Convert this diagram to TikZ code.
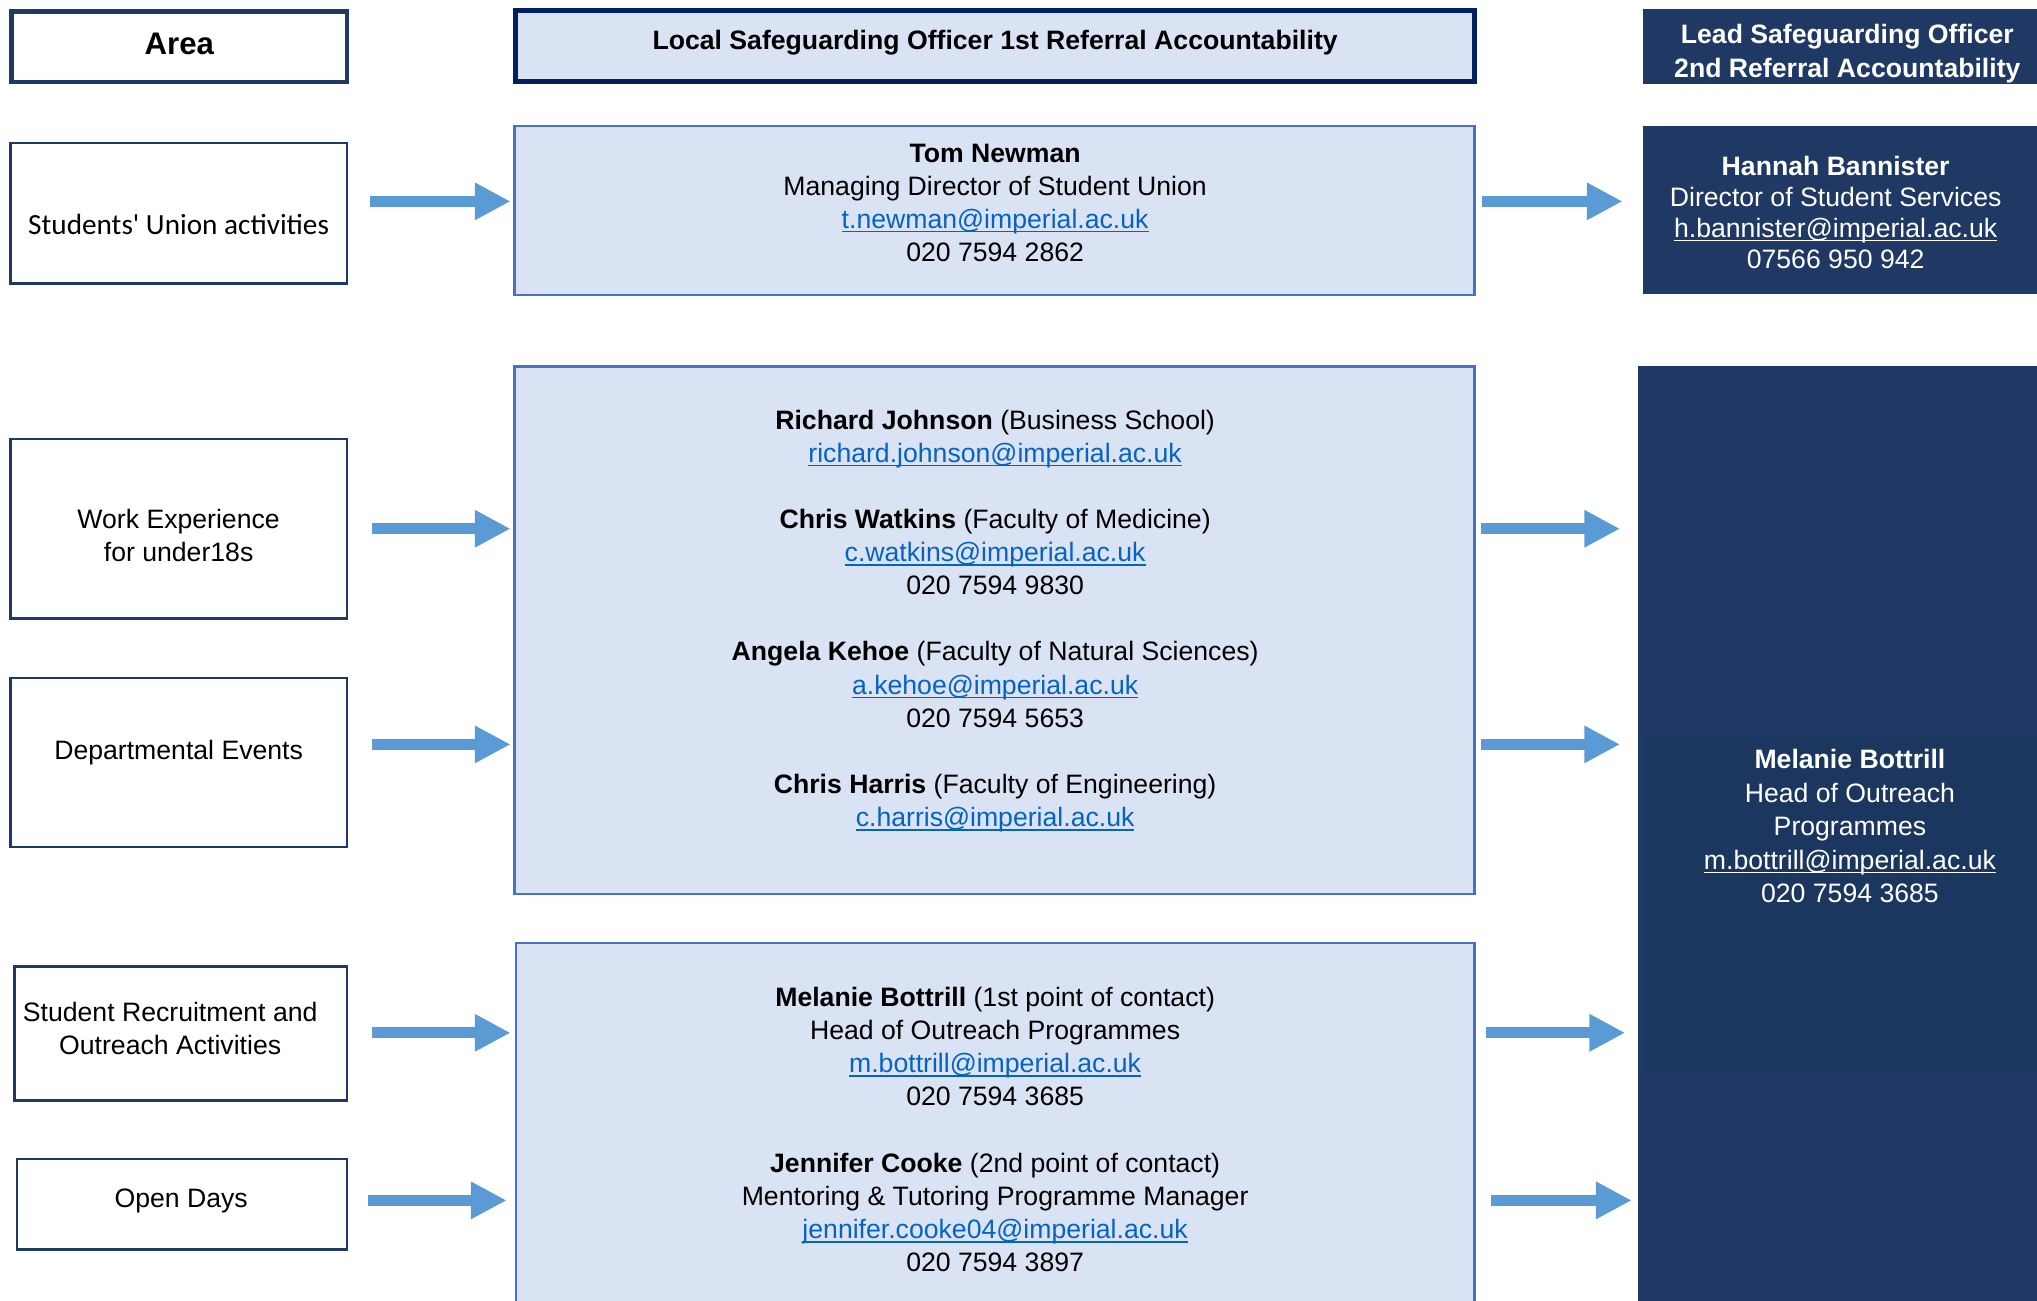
\documentclass[tikz,border=0pt]{standalone}
\usepackage{fontspec}
\setmainfont{Liberation Sans}
\newfontfamily\calfont[Ligatures=TeXOff]{Carlito}
\usetikzlibrary{arrows.meta}
\definecolor{navy}{HTML}{203864}
\definecolor{hdrnavy}{HTML}{002060}
\definecolor{lightfill}{HTML}{DAE3F3}
\definecolor{midborder}{HTML}{4472C4}
\definecolor{arrowblue}{HTML}{5B9BD5}
\definecolor{darkfill}{HTML}{1F3864}
\definecolor{innerfill}{HTML}{1B3760}
\definecolor{linkblue}{HTML}{0563C1}
\newcommand\ulink[1]{\setbox0=\hbox{#1}\rlap{\rule[-3.2pt]{\wd0}{1.2pt}}\box0}
\newcommand\blink[1]{{\color{linkblue}\ulink{#1}}}
\tikzset{
  base/.style={inner sep=0pt, outer sep=0pt},
  leftbox/.style={base, draw=navy, line width=2pt, fill=white},
  midbox/.style={base, draw=midborder, line width=1.8pt, fill=lightfill},
  darkbox/.style={base, fill=darkfill},
  txt/.style={base, align=center, font=\fontsize{20.5}{25.5}\selectfont},
  wtxt/.style={txt, text=white},
  bigarrow/.style={draw=arrowblue, line width=8.7pt, -{Triangle[length=27.5pt,width=27pt]}},
}
\begin{document}
\begin{tikzpicture}[x=1pt,y=-1pt]
\useasboundingbox (0,0) rectangle (1568,1001);
% ---------- header row
\node[leftbox, line width=3.5pt, minimum width=258pt, minimum height=54pt] (area) at (138,36) {};
\node[base, font=\fontsize{24}{28}\selectfont\bfseries] (area-t) at (138,34) {Area};
\node[base, draw=hdrnavy, line width=4pt, fill=lightfill, minimum width=738pt, minimum height=55pt] (hdr) at (766,35.5) {};
\node[txt, font=\fontsize{20.5}{25.5}\selectfont\bfseries] (hdr-t) at (766,32.5) {Local Safeguarding Officer 1st Referral Accountability};
\node[darkbox, minimum width=310pt, minimum height=58pt] (hdrR) at (1420,36) {};
\node[wtxt, font=\fontsize{20.5}{26}\selectfont\bfseries] (hdrR-t) at (1422,41) {Lead Safeguarding Officer\\2nd Referral Accountability};
% ---------- row 1
\node[leftbox, minimum width=259pt, minimum height=108pt] (lsu) at (137.5,164) {};
\node[base, font=\calfont\fontsize{22.5}{27}\selectfont] (lsu-t) at (137.5,173) {Students' Union activities};
\node[midbox, minimum width=739pt, minimum height=130pt] (tom) at (765.5,162) {};
\node[txt] (tom-t) at (766,156) {\textbf{Tom Newman}\\Managing Director of Student Union\\\blink{t.newman@imperial.ac.uk}\\020 7594 2862};
\node[darkbox, minimum width=310pt, minimum height=129pt] (han) at (1420,161.5) {};
\node[wtxt, font=\fontsize{20.5}{23.7}\selectfont] (han-t) at (1413,163.5) {\textbf{Hannah Bannister}\\Director of Student Services\\\ulink{h.bannister@imperial.ac.uk}\\07566 950 942};
% ---------- row 2
\node[leftbox, minimum width=259pt, minimum height=138pt] (lwe) at (137.5,407) {};
\node[txt] (lwe-t) at (137.5,412) {Work Experience\\for under18s};
\node[leftbox, minimum width=259pt, minimum height=130pt] (lde) at (137.5,587) {};
\node[txt] (lde-t) at (137.5,579) {Departmental Events};
\node[midbox, minimum width=739pt, minimum height=406pt] (mid2) at (765.5,485) {};
\node[txt] (mid2-t) at (766,478) {\textbf{Richard Johnson} (Business School)\\\blink{richard.johnson@imperial.ac.uk}\\[25.5pt]\textbf{Chris Watkins} (Faculty of Medicine)\\\blink{c.watkins@imperial.ac.uk}\\020 7594 9830\\[25.5pt]\textbf{Angela Kehoe} (Faculty of Natural Sciences)\\\blink{a.kehoe@imperial.ac.uk}\\020 7594 5653\\[25.5pt]\textbf{Chris Harris} (Faculty of Engineering)\\\blink{c.harris@imperial.ac.uk}};
% ---------- right big box
\node[darkbox, minimum width=314pt, minimum height=730pt] (big) at (1418,647) {};
\node[base, fill=innerfill, minimum width=308pt, minimum height=259pt] (inner) at (1421,695.5) {};
\node[wtxt, font=\fontsize{20.5}{25.75}\selectfont] (mel-t) at (1424,636) {\textbf{Melanie Bottrill}\\Head of Outreach\\Programmes\\\ulink{m.bottrill@imperial.ac.uk}\\020 7594 3685};
% ---------- row 3
\node[leftbox, minimum width=256pt, minimum height=103pt] (lsr) at (139,795.5) {};
\node[txt] (lsr-t) at (131,792) {Student Recruitment and\\Outreach Activities};
\node[leftbox, minimum width=254pt, minimum height=70pt] (lod) at (140,927) {};
\node[txt] (lod-t) at (139.5,924.5) {Open Days};
\node[midbox, minimum width=738pt, minimum height=300pt] (mid3) at (766,876) {};
\node[txt] (mid3-t) at (766,869.5) {\textbf{Melanie Bottrill} (1st point of contact)\\Head of Outreach Programmes\\\blink{m.bottrill@imperial.ac.uk}\\020 7594 3685\\[25.5pt]\textbf{Jennifer Cooke} (2nd point of contact)\\Mentoring \& Tutoring Programme Manager\\\blink{jennifer.cooke04@imperial.ac.uk}\\020 7594 3897};
% ---------- arrows
\coordinate (ya) at (0,155);
\coordinate (yb) at (0,407);
\coordinate (yc) at (0,573);
\coordinate (yd) at (0,795);
\coordinate (ye) at (0,924);
\draw[bigarrow, shorten <=18pt, shorten >=3pt] (lsu.east |- ya) -- (tom.west |- ya);
\draw[bigarrow, shorten <=19pt, shorten >=3pt] (lwe.east |- yb) -- (mid2.west |- yb);
\draw[bigarrow, shorten <=19pt, shorten >=3pt] (lde.east |- yc) -- (mid2.west |- yc);
\draw[bigarrow, shorten <=19pt, shorten >=4pt] (lsr.east |- yd) -- (mid3.west |- yd);
\draw[bigarrow, shorten <=16pt, shorten >=7pt] (lod.east |- ye) -- (mid3.west |- ye);
\draw[bigarrow, shorten <=6pt, shorten >=16pt] (tom.east |- ya) -- (han.west |- ya);
\draw[bigarrow, shorten <=5pt, shorten >=14pt] (mid2.east |- yb) -- (big.west |- yb);
\draw[bigarrow, shorten <=5pt, shorten >=14pt] (mid2.east |- yc) -- (big.west |- yc);
\draw[bigarrow, shorten <=9pt, shorten >=10pt] (mid3.east |- yd) -- (big.west |- yd);
\draw[bigarrow, shorten <=13pt, shorten >=5pt] (mid3.east |- ye) -- (big.west |- ye);
\end{tikzpicture}
\end{document}
